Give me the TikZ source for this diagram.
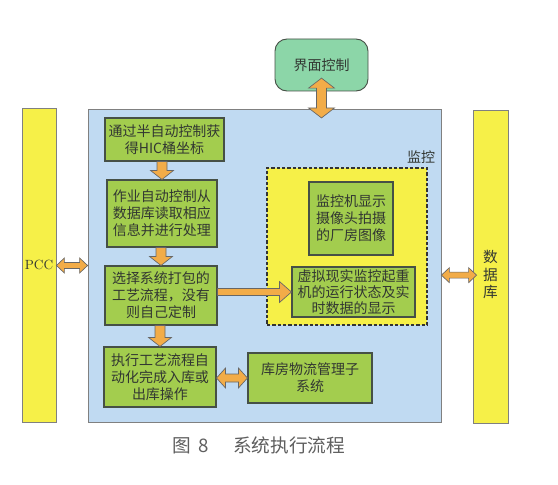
\documentclass[tikz,border=0pt]{standalone}
\usepackage{fontspec}
\newfontfamily\cjk{Noto Sans CJK SC}
\usetikzlibrary{calc}
\definecolor{barY}{RGB}{246,240,72}
\definecolor{blueF}{RGB}{192,218,242}
\definecolor{greenF}{RGB}{163,205,78}
\definecolor{topF}{RGB}{140,214,168}
\definecolor{orangeF}{RGB}{242,172,72}
\definecolor{lineC}{RGB}{70,80,70}
\definecolor{txtC}{RGB}{50,55,50}
\definecolor{capC}{RGB}{95,95,95}
\tikzset{
  sz/.style 2 args={minimum width=#1*0.75pt, minimum height=#2*0.75pt},
  box/.style={draw=lineC, fill=greenF, line width=0.8pt, align=center, inner sep=0pt,
    text=txtC, font=\cjk\fontsize{10.5}{12.75}\selectfont},
  bar/.style={draw=gray, fill=barY, line width=0.6pt, inner sep=0pt, text=txtC},
  fatarr/.style={fill=orangeF, draw=gray!80!black, line width=0.5pt, line join=miter},
}
% down arrow: from #1 (top) to #2 (bottom), shaft half #3, head half #4, head length #5 (px)
\newcommand\arrdown[5]{\path[fatarr] let \p1=(#1), \p2=(#2) in
  (\x2-#3*0.75pt,\y1) -- (\x2-#3*0.75pt,\y2+#5*0.75pt) -- (\x2-#4*0.75pt,\y2+#5*0.75pt) -- (\x2,\y2)
  -- (\x2+#4*0.75pt,\y2+#5*0.75pt) -- (\x2+#3*0.75pt,\y2+#5*0.75pt) -- (\x2+#3*0.75pt,\y1) -- cycle;}
% right arrow
\newcommand\arrright[5]{\path[fatarr] let \p1=(#1), \p2=(#2) in
  (\x1,\y2+#3*0.75pt) -- (\x2-#5*0.75pt,\y2+#3*0.75pt) -- (\x2-#5*0.75pt,\y2+#4*0.75pt) -- (\x2,\y2)
  -- (\x2-#5*0.75pt,\y2-#4*0.75pt) -- (\x2-#5*0.75pt,\y2-#3*0.75pt) -- (\x1,\y2-#3*0.75pt) -- cycle;}
% horizontal double arrow
\newcommand\arrhd[5]{\path[fatarr] let \p1=(#1), \p2=(#2) in
  (\x1,\y2) -- (\x1+#5*0.75pt,\y2+#4*0.75pt) -- (\x1+#5*0.75pt,\y2+#3*0.75pt) -- (\x2-#5*0.75pt,\y2+#3*0.75pt)
  -- (\x2-#5*0.75pt,\y2+#4*0.75pt) -- (\x2,\y2) -- (\x2-#5*0.75pt,\y2-#4*0.75pt) -- (\x2-#5*0.75pt,\y2-#3*0.75pt)
  -- (\x1+#5*0.75pt,\y2-#3*0.75pt) -- (\x1+#5*0.75pt,\y2-#4*0.75pt) -- cycle;}
% vertical double arrow (x taken from the first point)
\newcommand\arrvd[5]{\path[fatarr] let \p1=(#1), \p2=(#2) in
  (\x1,\y1) -- (\x1+#4*0.75pt,\y1-#5*0.75pt) -- (\x1+#3*0.75pt,\y1-#5*0.75pt) -- (\x1+#3*0.75pt,\y2+#5*0.75pt)
  -- (\x1+#4*0.75pt,\y2+#5*0.75pt) -- (\x1,\y2) -- (\x1-#4*0.75pt,\y2+#5*0.75pt) -- (\x1-#3*0.75pt,\y2+#5*0.75pt)
  -- (\x1-#3*0.75pt,\y1-#5*0.75pt) -- (\x1-#4*0.75pt,\y1-#5*0.75pt) -- cycle;}
\begin{document}
\begin{tikzpicture}[x=0.75pt,y=-0.75pt]
\fill[white] (0,0) rectangle (558,485);
\useasboundingbox (0,0) rectangle (558,485);

% side bars
\node[bar, sz={34}{314}, font=\fontsize{10}{12}\selectfont] (pcc) at (39,265) {PCC};
\node[bar, sz={35}{313}, label={[font=\cjk\fontsize{11}{13}\selectfont, text=txtC, align=center, yshift=-6pt]center:数\\据\\库}] (db) at (490.5,266.5) {};

% main monitoring area
\node[draw=gray, fill=blueF, line width=0.6pt, sz={353}{313}] (main) at (264.5,265.5) {};
\node[text=txtC, font=\cjk\fontsize{10.5}{12}\selectfont, inner sep=0pt] (lbl) at (421,157) {监控};

% top interface box
\node[draw=lineC, fill=topF, rounded corners=9pt, line width=0.7pt, sz={93}{52},
  text=txtC, font=\cjk\fontsize{10.5}{12}\selectfont] (ui) at (321.5,65) {界面控制};

% dashed yellow region
\node[draw=black!80, fill=barY, dash pattern=on 2.4pt off 1.6pt, line width=1.1pt, sz={160}{157}] (dash) at (347,246.5) {};
\node[box, sz={84}{73}] (cam) at (351,218.5) {监控机显示\\摄像头拍摄\\的厂房图像};
\node[box, sz={123}{50}, font=\cjk\fontsize{10.5}{12.2}\selectfont] (vr) at (353.5,292) {虚拟现实监控起重\\机的运行状态及实\\时数据的显示};

% flow boxes
\node[box, sz={119}{43}] (b1) at (164.5,139.5) {通过半自动控制获\\得HIC桶坐标};
\node[box, sz={110}{67}] (b2) at (162,213.5) {作业自动控制从\\数据库读取相应\\信息并进行处理};
\node[box, sz={112}{59}] (b3) at (161,295.5) {选择系统打包的\\工艺流程，没有\\则自己定制};
\node[box, sz={112}{60}] (b4) at (160,377) {执行工艺流程自\\动化完成入库或\\出库操作};
\node[box, sz={124}{50}] (b5) at (310,378) {库房物流管理子\\系统};

% arrows
\arrdown{b1.south}{b2.north}{5}{11.5}{9}
\arrdown{b2.south}{b3.north}{5}{11.5}{9}
\arrdown{b3.south}{b4.north}{5}{11.5}{9}
\arrright{b3.east}{vr.west}{3.5}{10.5}{12}
\arrhd{b4.east}{b5.west}{4}{10}{9}
\arrhd{pcc.east}{main.west}{3}{7.5}{8}
\arrhd{main.east}{[xshift=3pt,yshift=-6.5pt]db.west}{3}{7.5}{8}
\arrvd{[yshift=10pt]ui.south}{[yshift=-7pt]main.north}{5}{13}{10}

% caption
\node[anchor=west, text=capC, font=\cjk\fontsize{14}{16}\selectfont, inner sep=0pt] (cap) at (172,445)
  {图\hspace{0.4em}8\hspace{1.3em}系统执行流程};
\end{tikzpicture}
\end{document}
